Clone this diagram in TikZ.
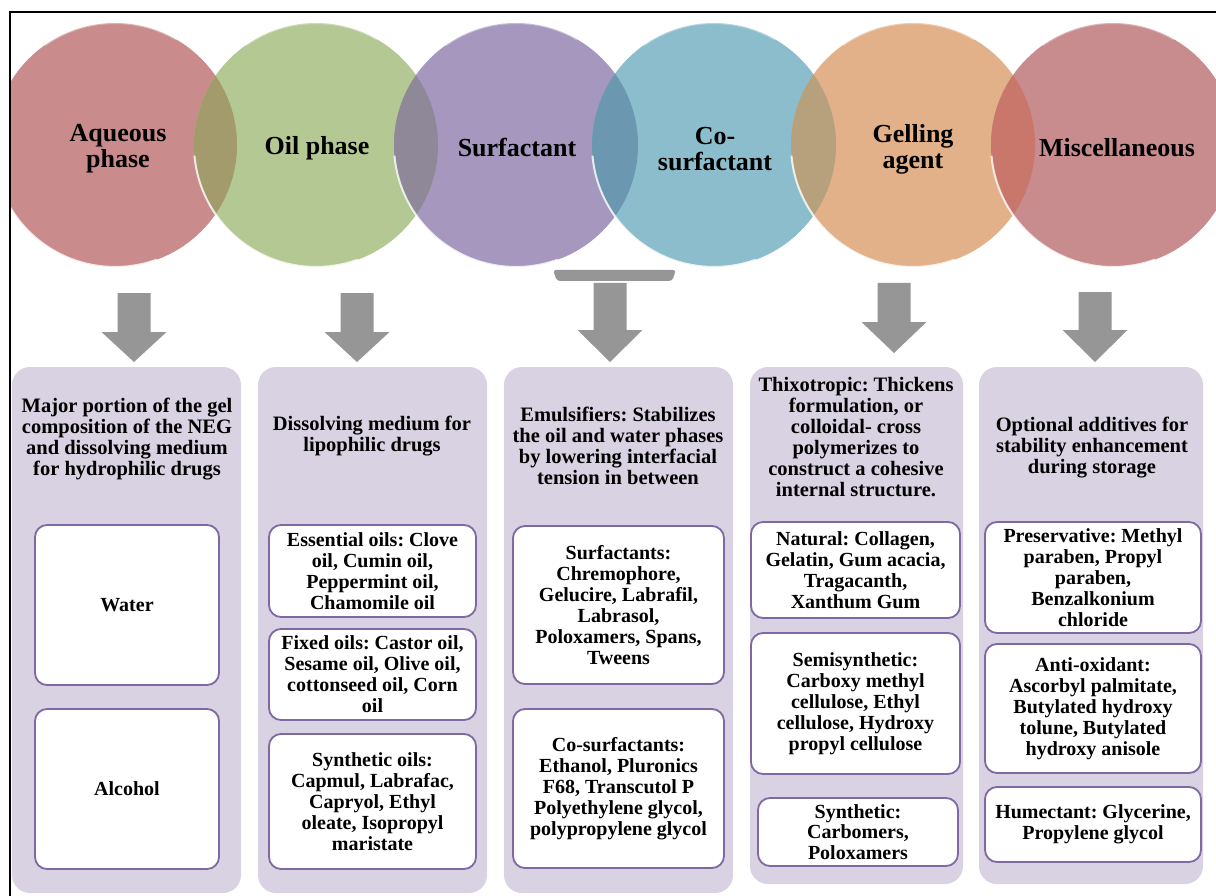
\documentclass[tikz,border=0pt]{standalone}
\usepackage{fontspec}
\setmainfont{Liberation Serif}
\definecolor{cAq}{HTML}{C98B8C}
\definecolor{cOil}{HTML}{B4C893}
\definecolor{cSurf}{HTML}{A597BD}
\definecolor{cCo}{HTML}{8BBDCC}
\definecolor{cGel}{HTML}{E2B189}
\definecolor{cMisc}{HTML}{C88B8E}
\definecolor{oAO}{HTML}{A39B6B}
\definecolor{oOS}{HTML}{8F8898}
\definecolor{oSC}{HTML}{6B97B0}
\definecolor{oCG}{HTML}{B7A07C}
\definecolor{oGM}{HTML}{C8776A}
\definecolor{panelc}{HTML}{D8D2E3}
\definecolor{boxc}{HTML}{7E69A3}
\definecolor{arrowc}{HTML}{969696}
\tikzset{
  circtext/.style={font=\fontsize{26}{26}\selectfont\bfseries, align=center, text=black, inner sep=0pt},
  panel/.style={fill=panelc, rounded corners=18pt},
  head/.style={font=\fontsize{20.5}{21}\selectfont\bfseries, align=center, inner sep=0pt},
  item/.style={draw=boxc, line width=1.8pt, fill=white, rounded corners=12pt, align=center, inner sep=0pt, font=\fontsize{20}{21}\selectfont\bfseries},
  rimlight/.style={white, opacity=.8, line width=2pt},
  rimtop/.style={white, opacity=.35, line width=2pt},
}
\newcommand\blockdown[4]{%
  \fill[arrowc] (#1-16.5,#2) -- (#1+16.5,#2) -- (#1+16.5,#3) -- (#1+32.5,#3) -- (#1,#4) -- (#1-32.5,#3) -- (#1-16.5,#3) -- cycle;}
\begin{document}
\frenchspacing
\begin{tikzpicture}[x=1pt,y=-1pt]
\useasboundingbox (0,0) rectangle (1216,896);
\fill[white] (0,0) rectangle (1216,896);

% ---- circles ----
\begin{scope}
\clip (11,13) rectangle (1216,300);
\fill[cAq] (115,145) circle (122pt);
\draw[rimlight] (115,145) ++(185:122pt) arc (185:290:122pt);
\draw[rimtop] (115,145) ++(60:122pt) arc (60:125:122pt);
\fill[cOil] (316,145) circle (122pt);
\begin{scope}\clip (115,145) circle (122pt); \fill[oAO] (316,145) circle (122pt);\end{scope}
\draw[rimlight] (316,145) ++(185:122pt) arc (185:290:122pt);
\draw[rimtop] (316,145) ++(60:122pt) arc (60:125:122pt);
\fill[cSurf] (516,145) circle (122pt);
\begin{scope}\clip (316,145) circle (122pt); \fill[oOS] (516,145) circle (122pt);\end{scope}
\draw[rimlight] (516,145) ++(185:122pt) arc (185:290:122pt);
\draw[rimtop] (516,145) ++(60:122pt) arc (60:125:122pt);
\fill[cCo] (714,145) circle (122pt);
\begin{scope}\clip (516,145) circle (122pt); \fill[oSC] (714,145) circle (122pt);\end{scope}
\draw[rimlight] (714,145) ++(185:122pt) arc (185:290:122pt);
\draw[rimtop] (714,145) ++(60:122pt) arc (60:125:122pt);
\fill[cGel] (913,145) circle (122pt);
\begin{scope}\clip (714,145) circle (122pt); \fill[oCG] (913,145) circle (122pt);\end{scope}
\draw[rimlight] (913,145) ++(185:122pt) arc (185:290:122pt);
\draw[rimtop] (913,145) ++(60:122pt) arc (60:125:122pt);
\fill[cMisc] (1113,145) circle (122pt);
\begin{scope}\clip (913,145) circle (122pt); \fill[oGM] (1113,145) circle (122pt);\end{scope}
\draw[rimlight] (1113,145) ++(185:122pt) arc (185:290:122pt);
\draw[rimtop] (1113,145) ++(60:122pt) arc (60:125:122pt);
\end{scope}

\node[circtext] (aq) at (118,149) {Aqueous\\phase};
\node[circtext] (oil) at (317,148) {Oil phase};
\node[circtext] (surf) at (517,148) {Surfactant};
\node[circtext] (cosurf) at (715,149) {Co-\\surfactant};
\node[circtext] (gel) at (913,149) {Gelling\\agent};
\node[circtext] (misc) at (1117,148) {Miscellaneous};

% ---- frame ----
\draw[line width=2pt] (10,898) -- (10,12) -- (1218,12);

% ---- block arrows ----
\blockdown{134}{293}{332}{362}
\blockdown{357}{293}{332}{362}
\fill[arrowc, rounded corners=3pt] (553,270) -- (676,270) -- (672,281) -- (557,281) -- cycle;
\blockdown{610}{283}{330}{362}
\blockdown{894}{283}{322}{353}
\blockdown{1095}{292}{330}{362}

% ---- panels ----
\fill[panel] (12,367) rectangle (241,893);
\fill[panel] (258,367) rectangle (487,893);
\fill[panel] (504,367) rectangle (733,893);
\fill[panel] (750,367) rectangle (963,884);
\fill[panel] (979,367) rectangle (1203,884);

\node[head] (h1) at (127,439) {Major portion of the gel\\composition of the NEG\\and dissolving medium\\for hydrophilic drugs};
\node[head] (h2) at (372,436) {Dissolving medium for\\lipophilic drugs};
\node[head] (h3) at (618,446) {Emulsifiers: Stabilizes\\the oil and water phases\\by lowering interfacial\\tension in between};
\node[head] (h4) at (856,437) {Thixotropic: Thickens\\formulation, or\\colloidal- cross\\polymerizes to\\construct a cohesive\\internal structure.};
\node[head] (h5) at (1092,448) {Optional additives for\\stability enhancement\\during storage};

% ---- items ----
\node[item, minimum width=184, minimum height=160] (water) at (127,605) {Water};
\node[item, minimum width=184, minimum height=160] (alcohol) at (127,789) {Alcohol};

\node[item, minimum width=207, minimum height=92] (ess) at (372.5,571) {Essential oils: Clove\\oil, Cumin oil,\\Peppermint oil,\\Chamomile oil};
\node[item, minimum width=207, minimum height=91] (fix) at (372.5,674.5) {Fixed oils: Castor oil,\\Sesame oil, Olive oil,\\cottonseed oil, Corn\\oil};
\node[item, minimum width=207, minimum height=135] (syn) at (372.5,801.5) {Synthetic oils:\\Capmul, Labrafac,\\Capryol, Ethyl\\oleate, Isopropyl\\maristate};

\node[item, minimum width=211, minimum height=158] (surfs) at (618.5,605) {Surfactants:\\Chremophore,\\Gelucire, Labrafil,\\Labrasol,\\Poloxamers, Spans,\\Tweens};
\node[item, minimum width=211, minimum height=159] (cosurfs) at (618.5,788.5) {Co-surfactants:\\Ethanol, Pluronics\\F68, Transcutol P\\Polyethylene glycol,\\polypropylene glycol};

\node[item, minimum width=209, minimum height=96] (nat) at (855.5,570) {Natural: Collagen,\\Gelatin, Gum acacia,\\Tragacanth,\\Xanthum Gum};
\node[item, minimum width=209, minimum height=141] (semi) at (855.5,703.5) {Semisynthetic:\\Carboxy methyl\\cellulose, Ethyl\\cellulose, Hydroxy\\propyl cellulose};
\node[item, minimum width=200, minimum height=68, font=\fontsize{20}{20.5}\selectfont\bfseries] (synth) at (858,832) {Synthetic:\\Carbomers,\\Poloxamers};

\node[item, minimum width=216, minimum height=111] (pres) at (1093,577.5) {Preservative: Methyl\\paraben, Propyl\\paraben,\\Benzalkonium\\chloride};
\node[item, minimum width=216, minimum height=129] (anti) at (1093,708.5) {Anti-oxidant:\\Ascorbyl palmitate,\\Butylated hydroxy\\tolune, Butylated\\hydroxy anisole};
\node[item, minimum width=216, minimum height=75] (hum) at (1093,824.5) {Humectant: Glycerine,\\Propylene glycol};
\end{tikzpicture}
\end{document}
